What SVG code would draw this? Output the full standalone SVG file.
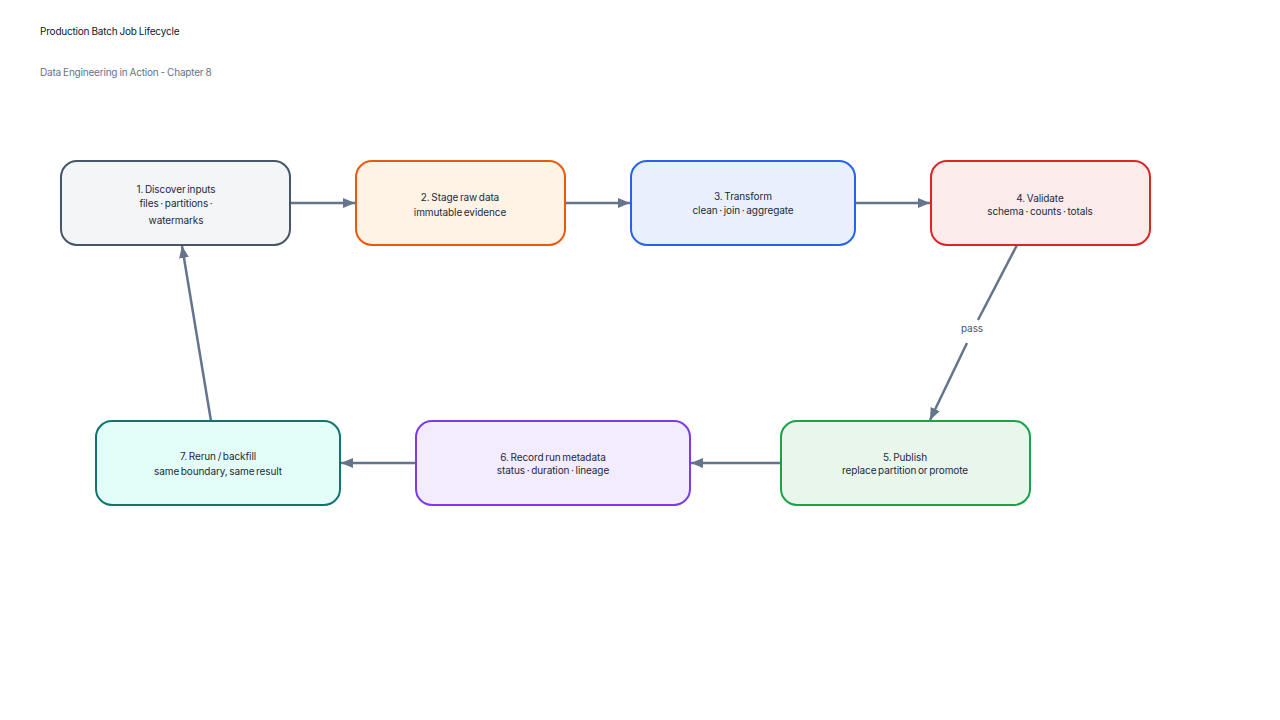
<svg xmlns="http://www.w3.org/2000/svg" width="1280" height="720" viewBox="0 0 1280 720">
<defs>
<marker id="ah" viewBox="0 0 12 10" refX="12" refY="5" markerWidth="12" markerHeight="10" markerUnits="userSpaceOnUse" orient="auto">
<path d="M0,0 L12,5 L0,10 z" fill="#64748b"/>
</marker>
<style>
.t{font-family:Inter,"Liberation Sans",sans-serif;font-size:10px;fill:#1e293b;text-anchor:middle;letter-spacing:-0.1px;word-spacing:-1px}
.h{font-family:Inter,"Liberation Sans",sans-serif;font-size:10px;letter-spacing:-0.2px;word-spacing:-0.5px}
.n{stroke-width:2}
.e{stroke:#64748b;stroke-width:2.5;fill:none;marker-end:url(#ah)}
</style>
</defs>
<rect width="1280" height="720" fill="#ffffff"/>
<text class="h" x="40" y="35" fill="#111827">Production Batch Job Lifecycle</text>
<text class="h" x="40" y="76" fill="#64748b">Data Engineering in Action - Chapter 8</text>
<g id="connectors">
<line class="e" x1="290" y1="203" x2="355" y2="203"/>
<line class="e" x1="565" y1="203" x2="630" y2="203"/>
<line class="e" x1="855" y1="203" x2="930" y2="203"/>
<path class="e" d="M1017,245 L978,320 M967,343 L930,420"/>
<text class="t" x="972" y="332" style="fill:#475569">pass</text>
<line class="e" x1="781" y1="463" x2="691" y2="463"/>
<line class="e" x1="416" y1="463" x2="341" y2="463"/>
<line class="e" x1="211" y1="421" x2="182" y2="246"/>
</g>
<g id="n1"><rect class="n" x="61" y="161" width="229" height="84" rx="16" fill="#f3f5f7" stroke="#475569"/>
<text class="t" x="176" y="193">1. Discover inputs</text><text class="t" x="176" y="207">files · partitions ·</text><text class="t" x="176" y="224">watermarks</text></g>
<g id="n2"><rect class="n" x="356" y="161" width="209" height="84" rx="16" fill="#fff3e6" stroke="#ea580c"/>
<text class="t" x="460" y="201">2. Stage raw data</text><text class="t" x="460" y="216">immutable evidence</text></g>
<g id="n3"><rect class="n" x="631" y="161" width="224" height="84" rx="16" fill="#e8f0fe" stroke="#2563eb"/>
<text class="t" x="743" y="200">3. Transform</text><text class="t" x="743" y="214">clean · join · aggregate</text></g>
<g id="n4"><rect class="n" x="931" y="161" width="219" height="84" rx="16" fill="#fcebeb" stroke="#dc2626"/>
<text class="t" x="1040" y="202">4. Validate</text><text class="t" x="1040" y="215">schema · counts · totals</text></g>
<g id="n5"><rect class="n" x="781" y="421" width="249" height="84" rx="16" fill="#e8f6ec" stroke="#16a34a"/>
<text class="t" x="905" y="461">5. Publish</text><text class="t" x="905" y="474">replace partition or promote</text></g>
<g id="n6"><rect class="n" x="416" y="421" width="274" height="84" rx="16" fill="#f3ecfe" stroke="#7c3aed"/>
<text class="t" x="553" y="461">6. Record run metadata</text><text class="t" x="553" y="474">status · duration · lineage</text></g>
<g id="n7"><rect class="n" x="96" y="421" width="244" height="84" rx="16" fill="#e3fdf8" stroke="#0f766e"/>
<text class="t" x="218" y="460">7. Rerun / backfill</text><text class="t" x="218" y="475">same boundary, same result</text></g>
</svg>
